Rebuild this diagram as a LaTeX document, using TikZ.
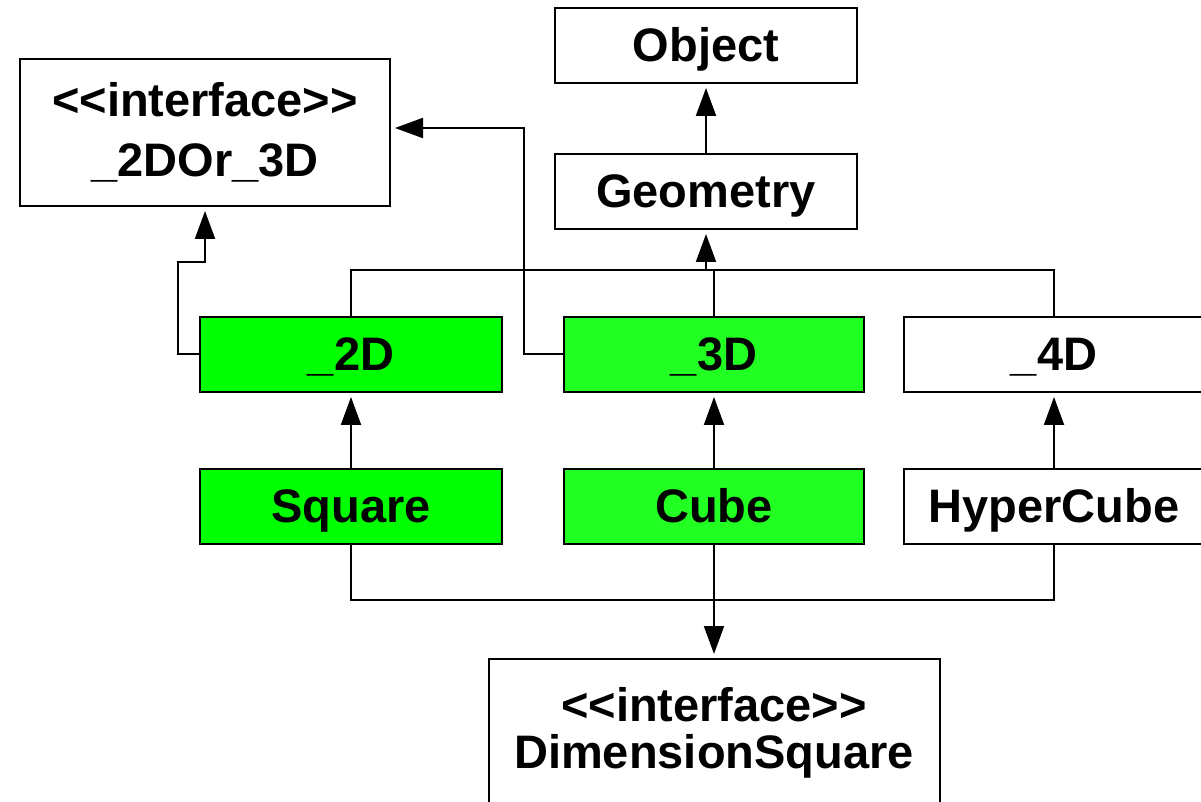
\documentclass[tikz,border=0pt]{standalone}
\usepackage{fontspec}
\setmainfont{Liberation Sans}
\usetikzlibrary{arrows.meta,positioning}
\definecolor{umlgreen}{HTML}{00FF00}
\definecolor{umllime}{HTML}{22FF22}
% keep << and >> from turning into guillemets
\newcommand{\stereo}[1]{<\kern0pt<#1>\kern0pt>}

\begin{document}
\begin{tikzpicture}[
  x=0.5pt,y=-0.5pt,
  base/.style={draw=black,line width=1pt,align=center,inner sep=0pt,
    font=\fontsize{23.5}{23.5}\selectfont\bfseries},
  cls/.style={base,fill=white,minimum width=151pt,minimum height=37.5pt,
    text height=17pt,text depth=0.5pt},
  iface/.style={base,fill=white,minimum height=73.5pt},
  impl/.style={cls,fill=umlgreen},
  impllime/.style={cls,fill=umllime,minimum width=150pt},
  inh/.style={-{Triangle[length=14pt,width=10pt]},line width=1pt,shorten >=2pt},
  link/.style={line width=1pt}
]
\useasboundingbox (0,0) rectangle (1201,802);

% top of the hierarchy
\node[cls] (object) at (706,45.5) {Object};
\node[cls,below=34.5pt of object] (geometry) {Geometry};
\node[iface,minimum width=185pt,font=\fontsize{23.5}{30}\selectfont\bfseries] (both) at (205,132.5)
  {\stereo{interface}\\\_2DOr\_3D};

% dimension classes
\node[impl] (d2) at (351,354.5) {\_2D};
\node[impllime,right=30pt of d2] (d3) {\_3D};
\node[cls,minimum width=150pt,right=19pt of d3] (d4) {\_4D};

% concrete shapes
\node[impl,below=37.5pt of d2] (square) {Square};
\node[impllime,below=37.5pt of d3] (cube) {Cube};
\node[cls,minimum width=150pt,below=37.5pt of d4] (hyper) {HyperCube};
\node[iface,minimum width=225.5pt,below=56.5pt of cube] (dimsq) {\stereo{interface}\\DimensionSquare};

\coordinate (join) at (706,270);
\coordinate (k2) at (178,262);
\coordinate (k3) at (524,128);
\coordinate (low) at (712,600);

\draw[inh] (geometry) -- (object);
\draw[link] (d2.north) |- (join) -| (d4.north);
\draw[link] (d3.north) -- (d3.north |- join);
\draw[inh] (join) -- (geometry.south);

\draw[inh] (d2.west) -| (k2) -| (both.south);
\draw[inh] (d3.west) -| (k3) -- (k3 -| both.east);

\draw[inh] (square) -- (d2);
\draw[inh] (cube) -- (d3);
\draw[inh] (hyper) -- (d4);

\draw[link] (square.south) |- (low) -| (hyper.south);
\draw[inh] (cube.south) -- (cube.south |- dimsq.north);
\end{tikzpicture}
\end{document}
